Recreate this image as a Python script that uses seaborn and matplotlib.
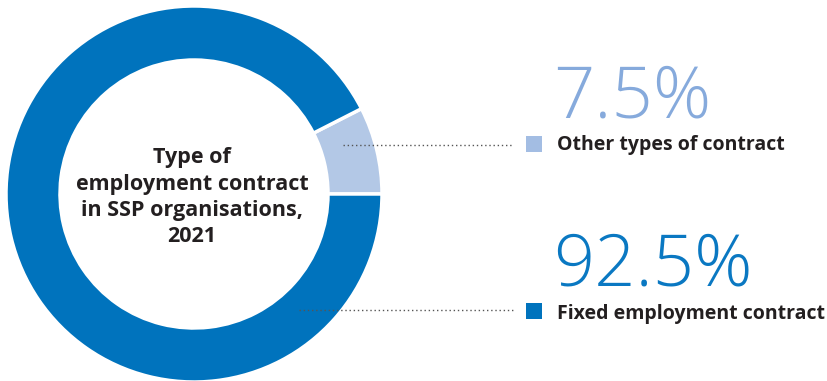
import matplotlib
matplotlib.use("Agg")
import matplotlib.pyplot as plt
from matplotlib.patches import Rectangle
import seaborn as sns

# Contract types and their shares (%)
categories = ["Other types of contract", "Fixed employment contract"]
shares = [7.5, 92.5]
value_labels = ["7.5%", "92.5%"]
title_lines = ["Type of", "employment contract", "in SSP organisations,", "2021"]

sns.set_theme(style="white")
plt.rcParams["font.family"] = ["Open Sans", "DejaVu Sans"]

slice_colors = ["#b3c8e6", "#0073bd"]
label_colors = ["#86aadc", "#0a78c2"]
square_colors = ["#a3bde3", "#0073bd"]
text_dark = "#231f20"

W, H = 828, 381
fig = plt.figure(figsize=(W / 100, H / 100), dpi=100)
ax = fig.add_axes([0, 0, 1, 1])

def py(y):
    # convert a top-down pixel row to the bottom-up data coordinate
    return H - y

ax.pie(shares, colors=slice_colors, startangle=0, counterclock=True,
       center=(194, py(194)), radius=188,
       wedgeprops=dict(width=54, edgecolor="white", linewidth=2.5))

ax.set_xlim(0, W)
ax.set_ylim(0, H)
ax.set_aspect("auto")
ax.axis("off")

# Centre title, line by line
title_baselines = [163, 190, 216, 242]
for line, by in zip(title_lines, title_baselines):
    ax.text(192, py(by), line, ha="center", va="baseline", fontsize=15.5,
            fontweight="bold", color=text_dark)

# Leader lines
leaders = [((343, 513), 145), ((299, 513), 310)]
for (x0, x1), y in leaders:
    ax.plot([x0, x1], [py(y), py(y)], linestyle=(0, (1, 2)), color="#555555",
            lw=1.0, solid_capstyle="butt")

# Legend squares, labels and big percentage figures
square_pos = [(526, 136), (526, 303)]
label_pos = [(557, 150), (557, 319)]
value_pos = [(553, 117), (553, 285)]
for i in range(2):
    sx, sy = square_pos[i]
    ax.add_patch(Rectangle((sx, py(sy + 16)), 16, 16, facecolor=square_colors[i],
                           edgecolor="none"))
    lx, ly = label_pos[i]
    ax.text(lx, py(ly), categories[i], ha="left", va="baseline", fontsize=14,
            fontweight="bold", color=text_dark)
    vx, vy = value_pos[i]
    ax.text(vx, py(vy), value_labels[i], ha="left", va="baseline", fontsize=52,
            fontweight="light", color=label_colors[i])

fig.savefig("out.png", dpi=100)
